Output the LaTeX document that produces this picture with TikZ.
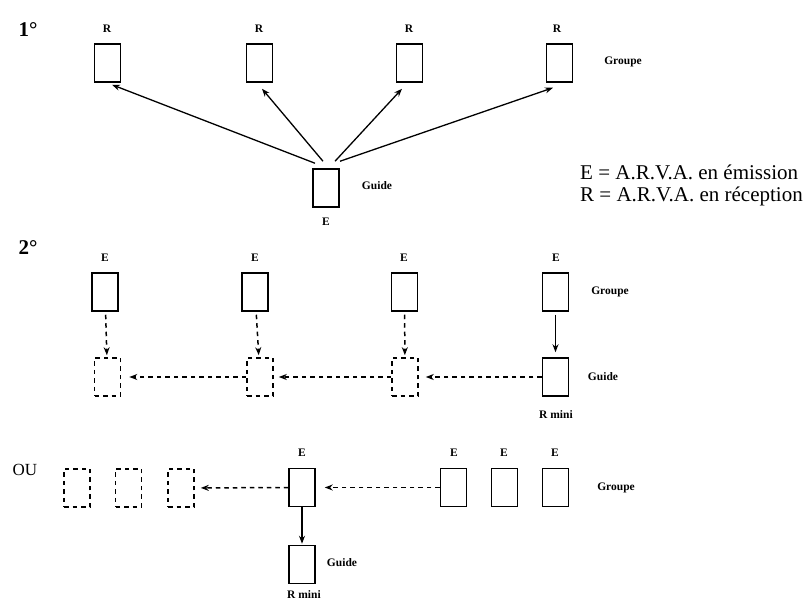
\documentclass[tikz,border=0pt]{standalone}
\usepackage{fontspec}
\setmainfont{Liberation Serif}
\usetikzlibrary{arrows.meta}
\begin{document}
\begin{tikzpicture}[x=1pt,y=-1pt,
  box/.style={draw, line width=1.5pt, minimum width=26pt, minimum height=38pt, inner sep=0pt},
  dbox/.style={box, line width=1.6pt, dash pattern=on 4.5pt off 4pt},
  lab/.style={font=\bfseries\fontsize{11.5}{13}\selectfont, inner sep=0pt},
  big/.style={font=\bfseries\fontsize{21}{23}\selectfont, inner sep=0pt},
  leg/.style={font=\fontsize{21}{23}\selectfont, inner sep=0pt, anchor=west},
  arr/.style={-{Stealth[length=8pt,width=6pt]}, line width=1.3pt},
  darr/.style={arr, line width=1.5pt, dash pattern=on 4.5pt off 4pt},
]
\useasboundingbox (0,0) rectangle (807,601);
% ---------- 1
\node[big] (n1) at (28,30) {1°};
\node[box] (r1) at (107.5,63) {};
\node[box] (r2) at (259.5,63) {};
\node[box] (r3) at (409.5,63) {};
\node[box] (r4) at (559.5,63) {};
\node[lab] (lr1) at (107,29) {R};
\node[lab] (lr2) at (259,29) {R};
\node[lab] (lr3) at (409,29) {R};
\node[lab] (lr4) at (557,29) {R};
\node[lab] (gr1) at (623,62) {Groupe};
\node[box] (g1) at (326,188) {};
\node[lab] (gl1) at (377,186) {Guide};
\node[lab] (ge1) at (326,222) {E};
\draw[arr] ([xshift=-11pt,yshift=5pt]g1.north) -- ([xshift=4.5pt,yshift=-2pt]r1.south);
\draw[arr] ([xshift=-3pt,yshift=7pt]g1.north) -- ([xshift=2.5pt,yshift=-6pt]r2.south);
\draw[arr] ([xshift=9pt,yshift=7pt]g1.north) -- ([xshift=-7.5pt,yshift=-6pt]r3.south);
\draw[arr] ([xshift=14pt,yshift=7pt]g1.north) -- ([xshift=-6.5pt,yshift=-5pt]r4.south);
\node[leg] (le1) at (580,172) {E = A.R.V.A. en émission};
\node[leg] (le2) at (580,196) {R = A.R.V.A. en réception};
% ---------- 2
\node[big] (n2) at (28,248) {2°};
\node[box] (e1) at (105,292) {};
\node[box] (e2) at (255,292) {};
\node[box] (e3) at (404.5,292) {};
\node[box] (e4) at (555.5,292) {};
\node[lab] (le21) at (105,258) {E};
\node[lab] (le22) at (255,258) {E};
\node[lab] (le23) at (404,258) {E};
\node[lab] (le24) at (556,258) {E};
\node[lab] (gr2) at (610,292) {Groupe};
\node[dbox] (d1) at (107.5,377) {};
\node[dbox] (d2) at (260,377) {};
\node[dbox] (d3) at (405,377) {};
\node[box] (g2) at (555.5,377) {};
\node[lab] (gl2) at (603,377) {Guide};
\node[lab] (rm2) at (556,415) {R mini};
\draw[darr, shorten <=3pt, shorten >=2pt] (e1) -- (d1);
\draw[darr, shorten <=3pt, shorten >=2pt] (e2) -- (d2);
\draw[darr, shorten <=3pt, shorten >=2pt] (e3) -- (d3);
\draw[arr, shorten <=3pt, shorten >=5pt] (e4) -- (g2);
\draw[darr, shorten >=7pt] (g2) -- (d3);
\draw[darr, shorten >=5pt] (d3) -- (d2);
\draw[darr, shorten >=8pt] (d2) -- (d1);
% ---------- OU
\node[font=\fontsize{17}{19}\selectfont, inner sep=0pt] (ou) at (25,470) {OU};
\node[dbox] (oa) at (77,488) {};
\node[dbox] (ob) at (128.5,488) {};
\node[dbox] (oc) at (181,488) {};
\node[box] (eo) at (302,487.5) {};
\node[box] (go1) at (453.5,487.5) {};
\node[box] (go2) at (504.5,487.5) {};
\node[box] (go3) at (555.5,487.5) {};
\node[lab] (leo) at (302,453) {E};
\node[lab] (lg1) at (454,453) {E};
\node[lab] (lg2) at (504,453) {E};
\node[lab] (lg3) at (555,453) {E};
\node[lab] (gr3) at (616,488) {Groupe};
\node[box] (gu3) at (302,564.5) {};
\node[lab] (gl3) at (342,563) {Guide};
\node[lab] (rm3) at (304,595) {R mini};
\draw[darr, shorten >=6pt] (eo) -- (oc);
\draw[darr, shorten >=9pt] (go1) -- (eo);
\draw[arr, shorten >=1pt] (eo) -- (gu3);
\end{tikzpicture}
\end{document}
